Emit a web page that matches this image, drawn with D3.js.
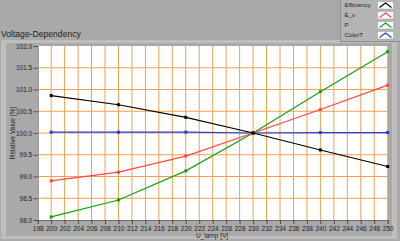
<!DOCTYPE html>
<html>
<head>
<meta charset="utf-8">
<script src="https://cdn.jsdelivr.net/npm/d3@7"></script>
<style>
body { margin: 0; background: #a9a9a9; }
svg { display: block; }
text { font-family: "Liberation Sans", Arial, sans-serif; fill: #1e1e1e; }
</style>
</head>
<body>
<svg width="400" height="241"></svg>
<script>
// values
var voltage = [200, 210, 220, 230, 240, 250];
var efficiency = [100.86, 100.65, 100.36, 100.0, 99.61, 99.23];
var ev = [98.90, 99.10, 99.47, 100.0, 100.54, 101.10];
var power = [98.07, 98.46, 99.13, 100.0, 100.95, 101.87];
var colorT = [100.02, 100.02, 100.02, 100.0, 100.01, 100.01];
var seriesNames = ["Efficiency", "E_v", "P", "ColorT"];
var seriesValues = [efficiency, ev, power, colorT];
var seriesColors = ["#000000", "#ff4646", "#14a014", "#1a3fe0"];
var xTicks = d3.range(198, 251, 2);
var yTicks = [98.0, 98.5, 99.0, 99.5, 100.0, 100.5, 101.0, 101.5, 102.0];

var svg = d3.select("svg");

// panel background and frame
svg.append("rect").attr("width", 400).attr("height", 241).attr("fill", "#a9a9a9");
svg.append("rect").attr("x", 1).attr("y", 40).attr("width", 396).attr("height", 199).attr("fill", "#bebebe");
svg.append("rect").attr("x", 6).attr("y", 43).attr("width", 386).attr("height", 193).attr("fill", "#a9a9a9");

svg.append("text")
  .attr("x", 1).attr("y", 37)
  .attr("font-size", "8.6px")
  .text("Voltage-Dependency");

var plotLeft = 37.7, plotRight = 387.7, plotTop = 46, plotBottom = 220;
var x = d3.scaleLinear().domain([198, 250]).range([plotLeft, plotRight]);
var y = d3.scaleLinear().domain([98, 102]).range([plotBottom, plotTop]);

// plot area
svg.append("rect")
  .attr("x", plotLeft).attr("y", plotTop)
  .attr("width", plotRight - plotLeft).attr("height", plotBottom - plotTop)
  .attr("fill", "#ffffff");

// grid
var grid = svg.append("g");
grid.selectAll(".gx").data(xTicks.slice(1)).enter().append("line")
  .attr("x1", function(d) { return x(d); }).attr("x2", function(d) { return x(d); })
  .attr("y1", plotTop).attr("y2", plotBottom)
  .attr("stroke", "#f0a050").attr("stroke-width", 1);
grid.selectAll(".gy").data(yTicks.slice(1, -1)).enter().append("line")
  .attr("x1", plotLeft).attr("x2", plotRight)
  .attr("y1", function(d) { return y(d); }).attr("y2", function(d) { return y(d); })
  .attr("stroke", "#f0a050").attr("stroke-width", 1);

// axes
var yAxis = svg.append("g")
  .attr("transform", "translate(" + plotLeft + ",0)")
  .call(d3.axisLeft(y).tickValues(yTicks).tickFormat(d3.format(".1f")).tickSize(4).tickPadding(1.5));
var xAxis = svg.append("g")
  .attr("transform", "translate(0," + plotBottom + ")")
  .call(d3.axisBottom(x).tickValues(xTicks).tickSize(4).tickPadding(2));
[xAxis, yAxis].forEach(function(a) {
  a.select(".domain").attr("stroke", "#6e6e6e");
  a.selectAll(".tick line").attr("stroke", "#4a4a4a");
  a.selectAll(".tick text")
    .attr("font-family", "Liberation Sans, Arial, sans-serif")
    .attr("font-size", "6.5px")
    .attr("fill", "#1e1e1e");
});

svg.append("text")
  .attr("transform", "translate(15,133) rotate(-90)")
  .attr("text-anchor", "middle")
  .attr("font-size", "6.5px")
  .text("Relative Value [%]");

svg.append("text")
  .attr("x", 212).attr("y", 237.5)
  .attr("text-anchor", "middle")
  .attr("font-size", "6.5px")
  .text("U_lamp [V]");

// series, first one drawn on top
var line = d3.line()
  .x(function(d, i) { return x(voltage[i]); })
  .y(function(d) { return y(d); });

for (var s = seriesValues.length - 1; s >= 0; s--) {
  var g = svg.append("g");
  g.append("path")
    .attr("d", line(seriesValues[s]))
    .attr("fill", "none")
    .attr("stroke", seriesColors[s])
    .attr("stroke-width", 1.2);
  g.selectAll("rect").data(seriesValues[s]).enter().append("rect")
    .attr("x", function(d, i) { return x(voltage[i]) - 1.5; })
    .attr("y", function(d) { return y(d) - 1.5; })
    .attr("width", 3).attr("height", 3)
    .attr("fill", seriesColors[s]);
}

// legend
var legend = svg.append("g");
legend.append("rect")
  .attr("x", 340.5).attr("y", -1).attr("width", 61).attr("height", 42.5)
  .attr("fill", "#b4b4b4").attr("stroke", "#8c8c8c");
seriesNames.forEach(function(name, i) {
  var row = legend.append("g").attr("transform", "translate(0," + (10 * i) + ")");
  row.append("text")
    .attr("x", 344.5).attr("y", 7.3)
    .attr("font-size", "6.2px")
    .text(name);
  row.append("rect")
    .attr("x", 377.5).attr("y", 1.5).attr("width", 16).attr("height", 7.5)
    .attr("fill", "#ffffff").attr("stroke", "#9a9a9a").attr("stroke-width", 0.5);
  row.append("polyline")
    .attr("points", "379.5,7.5 385.5,3 391.5,7.5")
    .attr("fill", "none")
    .attr("stroke", seriesColors[i])
    .attr("stroke-width", 1.2);
});
</script>
</body>
</html>
